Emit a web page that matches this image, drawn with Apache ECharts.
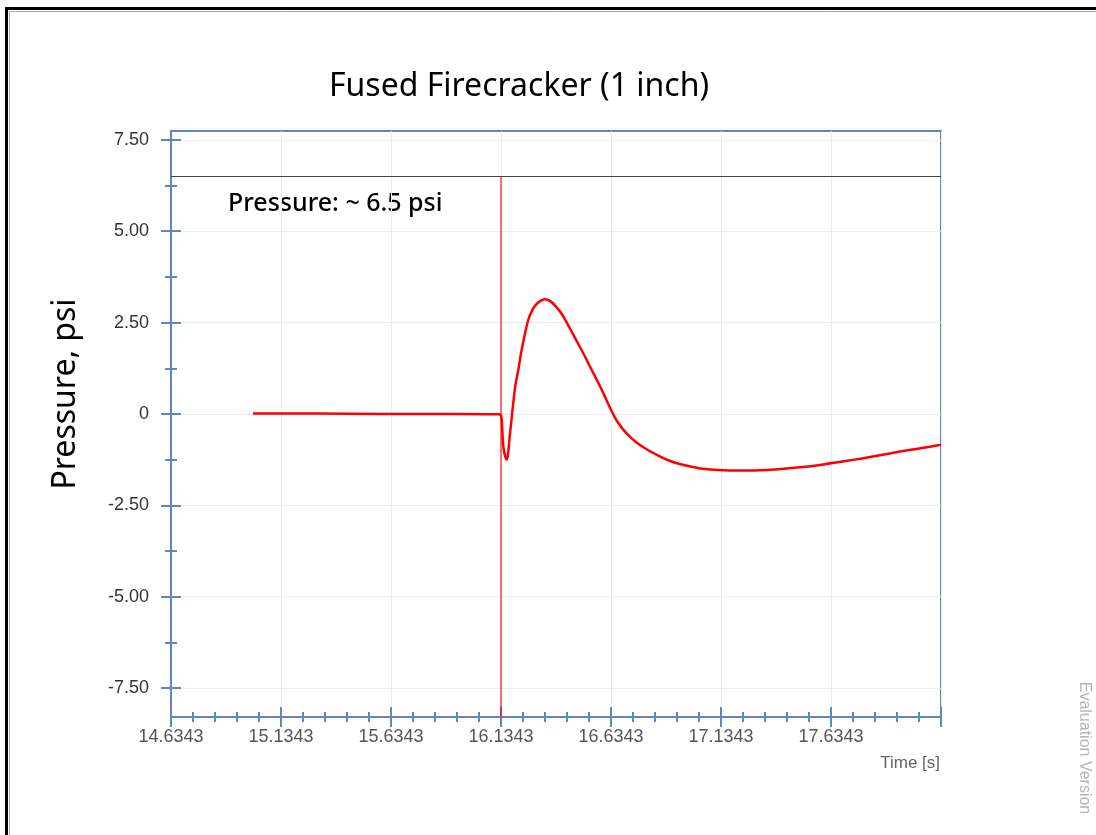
<!DOCTYPE html>
<html>
<head>
<meta charset="utf-8">
<script src="https://cdn.jsdelivr.net/npm/echarts@6/dist/echarts.min.js"></script>
<style>html,body{margin:0;padding:0;background:#fff;}#c{width:1096px;height:835px;}</style>
</head>
<body>
<div id="c"></div>
<script>
// ---- data ----
const timeS = [15.007, 15.3, 15.6, 15.9, 16.12, 16.1343, 16.145, 16.160, 16.175, 16.19, 16.20, 16.213, 16.225, 16.24, 16.258, 16.275, 16.29, 16.31, 16.334, 16.36, 16.385, 16.41, 16.435, 16.46, 16.485, 16.51, 16.535, 16.56, 16.585, 16.61, 16.637, 16.66, 16.69, 16.72, 16.75, 16.8, 16.85, 16.9, 16.96, 17.04, 17.15, 17.266, 17.38, 17.493, 17.6, 17.72, 17.83, 17.948, 18.04, 18.1343];
const pressure = [0.01, 0.01, 0.0, 0.0, -0.01, -0.03, -0.9, -1.25, -0.55, 0.3, 0.8, 1.2, 1.65, 2.1, 2.57, 2.82, 2.97, 3.08, 3.14, 3.08, 2.93, 2.74, 2.48, 2.2, 1.92, 1.64, 1.34, 1.05, 0.75, 0.43, 0.08, -0.18, -0.43, -0.62, -0.78, -0.98, -1.14, -1.28, -1.39, -1.49, -1.54, -1.55, -1.52, -1.46, -1.38, -1.27, -1.16, -1.03, -0.94, -0.84];
const spikeTime = [16.1343, 16.1343];
const spikePressure = [6.5, -9.5];
const peakLevel = 6.5;
const xMin = 14.6343, xMax = 18.1343, xStep = 0.5, xLabelCount = 7;
const yMin = -8.29, yMax = 7.74;
const yMajorTicks = [-7.5, -5, -2.5, 0, 2.5, 5, 7.5];
const yMinorTicks = [-6.25, -3.75, -1.25, 1.25, 3.75, 6.25];
const titleText = 'Fused Firecracker (1 inch)';
const yName = 'Pressure, psi';
const xName = 'Time [s]';
const noteText = 'Pressure: ~ 6.5 psi';
const watermark = 'Evaluation Version';

// ---- chart ----
const AX = '#5f87bf';
const chart = echarts.init(document.getElementById('c'), null, {renderer: 'canvas'});
const mainData = timeS.map((t, i) => [t, pressure[i]]);
const spikeData = spikeTime.map((t, i) => [t, spikePressure[i]]);

function xLabel(v) {
  const k = Math.round((v - xMin) / xStep);
  if (k < 0 || k >= xLabelCount || Math.abs(v - (xMin + k * xStep)) > 0.01) return '';
  return (xMin + k * xStep).toFixed(4);
}

const xBase = {
  type: 'value', min: xMin, max: xMax, interval: xStep, position: 'bottom', gridIndex: 0,
  axisLine: {show: true, onZero: false, lineStyle: {color: AX, width: 2}},
  minorTick: {show: true, splitNumber: 5, length: 5, lineStyle: {color: AX, width: 2}},
  splitLine: {show: false}
};
const yBase = {
  type: 'value', min: yMin, max: yMax, position: 'left', gridIndex: 0,
  axisLine: {show: true, onZero: false, lineStyle: {color: AX, width: 2}},
  splitLine: {show: false}, axisLabel: {show: false}
};

chart.setOption({
  animation: false,
  backgroundColor: '#fff',
  title: {
    text: titleText, left: 514, top: 66, textAlign: 'center',
    textStyle: {fontFamily: 'Noto Sans', fontSize: 32, fontWeight: 'normal', color: '#000'}
  },
  grid: {left: 171, right: 155, top: 131, bottom: 118, show: true, borderColor: AX, borderWidth: 2, backgroundColor: 'transparent'},
  xAxis: [
    Object.assign({}, xBase, {
      axisTick: {show: true, length: 10, lineStyle: {color: AX, width: 2}},
      axisLabel: {show: true, showMaxLabel: true, formatter: xLabel, color: '#555', fontSize: 18, fontFamily: 'Liberation Sans', margin: 11},
      splitLine: {show: true, lineStyle: {color: '#ececec', width: 1}}
    }),
    Object.assign({}, xBase, {
      axisTick: {show: true, inside: true, length: 10, lineStyle: {color: AX, width: 2}},
      axisLabel: {show: false}
    })
  ],
  yAxis: [
    Object.assign({}, yBase, {
      axisTick: {show: true, length: 10, customValues: yMajorTicks, lineStyle: {color: AX, width: 2}},
      axisLabel: {show: true, customValues: yMajorTicks, formatter: v => (v === 0 ? '0' : v.toFixed(2)), color: '#333', fontSize: 18, fontFamily: 'Liberation Sans', margin: 22},
      splitLine: {show: true, lineStyle: {color: '#ececec', width: 1}}
    }),
    Object.assign({}, yBase, {
      axisTick: {show: true, inside: true, length: 10, customValues: yMajorTicks, lineStyle: {color: AX, width: 2}}
    }),
    Object.assign({}, yBase, {
      axisTick: {show: true, length: 6, customValues: yMinorTicks, lineStyle: {color: AX, width: 2}}
    }),
    Object.assign({}, yBase, {
      axisTick: {show: true, inside: true, length: 6, customValues: yMinorTicks, lineStyle: {color: AX, width: 2}}
    })
  ],
  series: [
    {
      type: 'line', name: 'Pressure', xAxisIndex: 0, yAxisIndex: 0, data: mainData,
      smooth: 0.35, showSymbol: false, symbol: 'none', clip: true,
      lineStyle: {color: '#ff0000', width: 2.5},
      markLine: {
        silent: true, symbol: ['none', 'none'], label: {show: false},
        lineStyle: {color: '#444', width: 1.2, type: 'solid'},
        data: [{yAxis: peakLevel}]
      }
    },
    {
      type: 'line', name: 'Spike', xAxisIndex: 0, yAxisIndex: 0, data: spikeData,
      showSymbol: false, symbol: 'none', clip: true,
      lineStyle: {color: 'rgba(255,0,0,0.85)', width: 1.3}
    }
  ],
  graphic: [
    {type: 'rect', silent: true, shape: {x: 6.5, y: 8.5, width: 1300, height: 1000}, style: {fill: 'none', stroke: '#000', lineWidth: 3}},
    {type: 'rect', silent: true, shape: {x: 9.5, y: 11.5, width: 1300, height: 1000}, style: {fill: 'none', stroke: '#aaa', lineWidth: 1}},
    {type: 'text', silent: true, x: 66, y: 394, rotation: Math.PI / 2,
      style: {text: yName, fontFamily: 'Noto Sans', fontSize: 32, fill: '#000', align: 'center', verticalAlign: 'middle'}},
    {type: 'text', silent: true, x: 228, y: 204,
      style: {text: noteText, fontFamily: 'Noto Sans', fontSize: 25, fontWeight: 500, fill: '#000', align: 'left', verticalAlign: 'middle'}},
    {type: 'text', silent: true, x: 940, y: 763,
      style: {text: xName, fontFamily: 'Liberation Sans', fontSize: 17, fill: '#666', align: 'right', verticalAlign: 'middle'}},
    {type: 'text', silent: true, x: 1084, y: 748, rotation: -Math.PI / 2,
      style: {text: watermark, fontFamily: 'Liberation Sans', fontSize: 16, fill: '#b5b5b5', align: 'center', verticalAlign: 'middle'}}
  ]
});
</script>
</body>
</html>
